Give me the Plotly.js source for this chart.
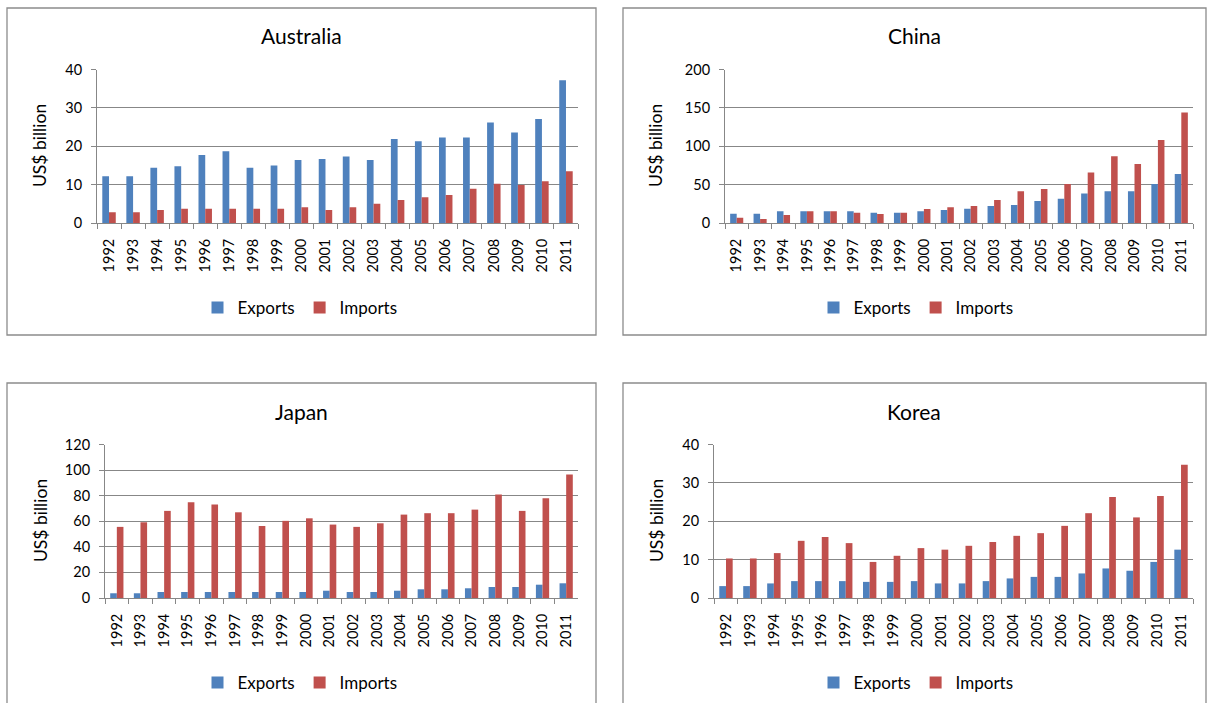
<!DOCTYPE html>
<html>
<head>
<meta charset="utf-8">
<script src="https://cdn.plot.ly/plotly-3.0.1.min.js"></script>
<style>
html,body{margin:0;padding:0;background:#fff;}
#chart{width:1208px;height:703px;}
</style>
</head>
<body>
<div id="chart"></div>
<script>
const years = ['1992','1993','1994','1995','1996','1997','1998','1999','2000','2001','2002','2003','2004','2005','2006','2007','2008','2009','2010','2011'];
const countries = ['Australia','China','Japan','Korea'];
const seriesNames = ['Exports','Imports'];

const australiaExports = [12.2,12.2,14.4,14.8,17.7,18.7,14.4,15.0,16.4,16.7,17.3,16.4,21.9,21.3,22.3,22.3,26.2,23.6,27.1,37.2];
const australiaImports = [2.8,2.8,3.4,3.7,3.7,3.7,3.7,3.7,4.1,3.4,4.1,5.0,6.0,6.7,7.3,8.9,10.2,9.9,10.9,13.5];

const chinaExports = [12.2,12.2,15.2,15.2,15.2,15.2,13.5,13.5,15.2,17.0,18.7,22.2,23.5,28.7,31.7,38.3,41.3,41.3,50.9,63.9];
const chinaImports = [7.0,5.2,10.4,15.2,15.2,13.5,11.7,13.5,18.3,20.4,22.2,30.0,41.3,44.3,50.9,65.7,87.0,77.0,108.3,143.9];

const japanExports = [3.7,3.7,4.7,4.7,4.7,4.7,4.7,4.7,4.7,5.7,4.7,4.7,5.7,6.8,6.8,7.6,8.6,8.6,10.4,11.5];
const japanImports = [55.6,59.2,68.1,74.9,73.0,67.0,56.3,60.3,62.3,57.4,55.6,58.4,65.2,66.3,66.3,69.1,80.9,68.1,78.0,96.5];

const koreaExports = [3.1,3.1,3.8,4.4,4.4,4.4,4.2,4.2,4.4,3.8,3.8,4.4,5.1,5.5,5.5,6.4,7.7,7.1,9.4,12.6];
const koreaImports = [10.3,10.3,11.7,14.9,15.9,14.3,9.4,11.0,13.0,12.6,13.6,14.6,16.2,16.9,18.8,22.1,26.3,21.0,26.6,34.7];

const yMax = [40, 200, 120, 40];
const yStep = [10, 50, 20, 10];
const yTitle = 'US$ billion';

const dataSets = [
  [australiaExports, australiaImports],
  [chinaExports, chinaImports],
  [japanExports, japanImports],
  [koreaExports, koreaImports]
];
const colors = ['#4F81BD', '#C0504D'];

// Layout geometry (pixels in a 1208x703 page)
const W = 1208, H = 703;
const px = v => v / W;
const py = v => 1 - v / H;
const plotX = [[97,578],[725,1193],[105,578],[714,1193]];
const plotY = [[69.5,223],[69.5,223],[444.5,598],[444.5,598]];
const panels = [[7,8,596,335],[623,8,1206,335],[7,383,596,712],[623,383,1206,712]];
const titlePos = [[301,36],[914,36],[301,411],[914,411]];
const yTitlePos = [[40,146],[656,146],[40,521],[656,521]];
const legendPos = [[300,308],[916,308],[300,683],[916,683]];

const FONT = 'Lato, "Open Sans", sans-serif';
const GRID = '#878787';

const traces = [];
countries.forEach((c, i) => {
  const sfx = i === 0 ? '' : String(i + 1);
  seriesNames.forEach((s, j) => {
    traces.push({
      type: 'bar',
      name: s,
      x: years,
      y: dataSets[i][j],
      xaxis: 'x' + sfx,
      yaxis: 'y' + sfx,
      legend: 'legend' + sfx,
      marker: {color: colors[j], line: {width: 0}},
      hovertemplate: c + ' ' + s + ' %{x}: %{y}<extra></extra>'
    });
  });
});

const layout = {
  width: W, height: H,
  margin: {l: 0, r: 0, t: 0, b: 0},
  paper_bgcolor: '#fff',
  plot_bgcolor: '#fff',
  barmode: 'group',
  bargap: 0.44,
  bargroupgap: 0,
  font: {family: FONT, size: 14.5, color: '#000'},
  annotations: [],
  shapes: []
};

countries.forEach((c, i) => {
  const sfx = i === 0 ? '' : String(i + 1);
  layout['xaxis' + sfx] = {
    type: 'category',
    domain: [px(plotX[i][0]), px(plotX[i][1])],
    anchor: 'y' + sfx,
    showgrid: false,
    showline: true, linecolor: GRID, linewidth: 1,
    ticks: 'outside', tickson: 'boundaries', ticklen: 5, tickcolor: GRID,
    tickangle: -90,
    ticklabelstandoff: 9,
    tickfont: {family: FONT, size: 14.5, color: '#000'},
    fixedrange: true
  };
  layout['yaxis' + sfx] = {
    domain: [py(plotY[i][1]), py(plotY[i][0])],
    anchor: 'x' + sfx,
    range: [0, yMax[i]],
    dtick: yStep[i], tick0: 0,
    showgrid: true, gridcolor: GRID, gridwidth: 1,
    zeroline: false,
    showline: true, linecolor: GRID, linewidth: 1,
    ticks: 'outside', ticklen: 5, tickcolor: GRID,
    ticklabelstandoff: 6,
    tickfont: {family: FONT, size: 14.5, color: '#000'},
    fixedrange: true
  };
  layout['legend' + sfx] = {
    orientation: 'h',
    x: px(legendPos[i][0]), xanchor: 'center',
    y: py(legendPos[i][1]), yanchor: 'middle',
    font: {family: FONT, size: 17, color: '#000'},
    bgcolor: 'rgba(0,0,0,0)',
    itemwidth: 30,
    traceorder: 'normal'
  };
  layout.annotations.push({
    text: c, xref: 'paper', yref: 'paper',
    x: px(titlePos[i][0]), y: py(titlePos[i][1]),
    xanchor: 'center', yanchor: 'middle', showarrow: false,
    font: {family: FONT, size: 21, color: '#000'}
  });
  layout.annotations.push({
    text: yTitle, xref: 'paper', yref: 'paper',
    x: px(yTitlePos[i][0]), y: py(yTitlePos[i][1]),
    xanchor: 'center', yanchor: 'middle', showarrow: false, textangle: -90,
    font: {family: FONT, size: 17.5, color: '#000'}
  });
  const p = panels[i];
  layout.shapes.push({
    type: 'rect', xref: 'paper', yref: 'paper',
    x0: px(p[0]), x1: px(p[2]), y0: py(p[3]), y1: py(p[1]),
    line: {color: '#8c8c8c', width: 1.3}, fillcolor: 'rgba(0,0,0,0)', layer: 'below'
  });
});

Plotly.newPlot('chart', traces, layout, {displayModeBar: false, staticPlot: true});
</script>
</body>
</html>
